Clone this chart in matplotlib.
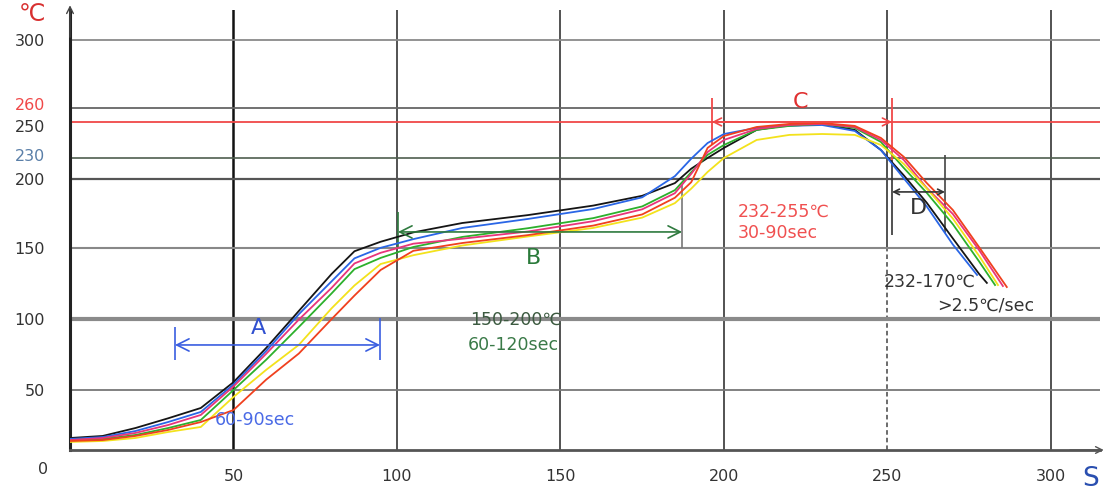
import numpy as np
import matplotlib
matplotlib.use("Agg")
import matplotlib.pyplot as plt
import matplotlib.transforms as mtransforms

plt.rcParams['font.family'] = ['DejaVu Sans']

# ---------------- data (time in s, temperature in degC) ----------------
time_s = [0, 10, 20, 30, 40, 50, 60, 70, 80, 87, 95, 105, 120, 140, 160, 175,
          185, 190, 195, 200, 210, 220, 230, 240, 248, 255, 262, 270]

black_T = [10, 11.7, 18.3, 26.4, 35, 55.5, 79.6, 105.7, 131.7, 147.7, 154.5, 161.3, 168.1, 173.8,
           180.7, 187.8, 197, 214.7, 230, 235.6, 245.6, 248.3, 248.9, 245.6, 234.4, 205.1, 182.8, 156.9]
black_tail_s = [278, 280.4]
black_tail_T = [131.8, 125.4]

blue_T = [9.2, 10.8, 15.8, 23.3, 31.7, 53.9, 77.5, 103.4, 126.5, 142.7, 150.1, 156.4, 164.5, 171,
          178.2, 186.7, 204, 229, 238.3, 243.3, 246.7, 247.8, 248.3, 245, 234.4, 200.9, 180.1, 152.5]
blue_tail_s = [277.4]
blue_tail_T = [131]

pink_T = [8.3, 10, 14.2, 20.8, 29.2, 52.5, 75.5, 99.6, 121.9, 139.1, 146.6, 153.1, 156.7, 161.9,
          169.4, 178, 189.7, 207.4, 233.3, 240, 246.1, 248.3, 248.9, 247.2, 240, 227.1, 193.5, 174.6]
pink_tail_s = [278, 285.3]
pink_tail_T = [148.6, 123.2]

green_T = [8.3, 9.2, 12.5, 18.3, 25, 50, 71.3, 94.4, 118, 135.1, 143, 150.7, 158, 164.3,
           171.6, 180.1, 191.9, 209.7, 231.7, 237.2, 245.6, 247.8, 248.9, 246.7, 238.9, 215.7, 190, 167.2]
green_tail_s = [278, 282.9]
green_tail_T = [140.6, 123.9]

yellow_T = [6.7, 7.5, 10, 15, 19.2, 44.2, 64.2, 81.8, 107.5, 123.6, 138.7, 144.9, 151.8, 158.3,
            164.5, 172, 182.5, 193, 210, 230, 240, 242.8, 243.3, 242.8, 237.2, 221.4, 193.1, 171.3]
yellow_tail_s = [278, 283.8]
yellow_tail_T = [144.5, 123.9]

red_T = [7.5, 8.3, 11.7, 16.7, 23.3, 33.3, 57.3, 75.7, 99.9, 116.5, 134.5, 148, 153.6, 159.3,
         166.2, 174.3, 186.4, 197.7, 235.6, 242.2, 247.2, 248.9, 249.4, 247.8, 241.1, 230.6, 197.1, 177.5]
red_tail_s = [278, 286.5]
red_tail_T = [150.7, 122.5]

x_ticks = [50, 100, 150, 200, 250, 300]
y_ticks = [50, 100, 150, 200, 230, 250, 260, 300]
y_tick_labels = ['50', '100', '150', '200', '230', '250', '260', '300']

# ---------------- non-linear temperature axis of the original ----------------
scale_T = [-50, 0, 50, 100, 150, 200, 230, 250, 260, 300, 360]
scale_pos = [-510, -450, -390, -319, -248, -179, -158, -122, -108, -40, 62]


def fwd(v):
    return np.interp(v, scale_T, scale_pos)


def inv(p):
    return np.interp(p, scale_pos, scale_T)


W, H = 1107, 493
fig = plt.figure(figsize=(W / 100, H / 100), dpi=100)
ax = fig.add_axes([70 / W, 43 / H, 1030 / W, 440 / H])
ax.set_yscale('function', functions=(fwd, inv))
ax.set_xlim(0, 315)
ax.set_ylim(0, 317.6)


def fx(px):
    return px / W


def fy(py):
    return 1 - py / H


# grid lines
for xv in x_ticks:
    if xv == 50:
        ax.axvline(xv, color='#111111', lw=1.8, zorder=1)
    elif xv == 250:
        ax.vlines(xv, 150, 317.6, color='#444444', lw=1.3, zorder=1)
        ax.vlines(xv, 0, 150, color='#444444', lw=1.1, linestyles=(0, (3, 2)), zorder=1)
    else:
        ax.axvline(xv, color='#444444', lw=1.3, zorder=1)

hstyle = {50: ('#777777', 1.3), 100: ('#8a8a8a', 3.0), 150: ('#888888', 1.5),
          200: ('#555555', 1.6), 230: ('#4f5f4f', 1.2), 250: ('#f04848', 1.3),
          260: ('#666666', 1.3), 300: ('#8a8a8a', 1.3)}
for yv in y_ticks:
    c, lw = hstyle[yv]
    ax.axhline(yv, color=c, lw=lw, zorder=1)

# curves
curves = [
    (black_T, black_tail_s, black_tail_T, '#151515'),
    (blue_T, blue_tail_s, blue_tail_T, '#2a66e6'),
    (green_T, green_tail_s, green_tail_T, '#2cb02c'),
    (pink_T, pink_tail_s, pink_tail_T, '#e8357a'),
    (yellow_T, yellow_tail_s, yellow_tail_T, '#f3e21c'),
    (red_T, red_tail_s, red_tail_T, '#f0401e'),
]
for T, ts, tt, col in curves:
    ax.plot(list(time_s) + list(ts), list(T) + list(tt), color=col, lw=1.3, zorder=3)

# spines and ticks
for s in ['top', 'right']:
    ax.spines[s].set_visible(False)
ax.spines['left'].set_color('#222222')
ax.spines['left'].set_linewidth(2.2)
ax.spines['bottom'].set_color('#555555')
ax.spines['bottom'].set_linewidth(2.0)

ax.set_xticks(x_ticks)
ax.set_xticklabels([str(v) for v in x_ticks])
ax.set_yticks(y_ticks)
ax.set_yticklabels(y_tick_labels)
ax.yaxis.set_minor_locator(matplotlib.ticker.NullLocator())
ax.xaxis.set_minor_locator(matplotlib.ticker.NullLocator())
ax.tick_params(axis='x', length=0, pad=14, labelsize=11.5, labelcolor='#333333')
ax.tick_params(axis='y', length=0, pad=18, labelsize=11.5, labelcolor='#333333')
for lab in ax.get_yticklabels():
    t = lab.get_text()
    if t == '260':
        lab.set_color('#f04848')
        lab.set_transform(lab.get_transform() +
                          mtransforms.ScaledTranslation(0, 3 / 72, fig.dpi_scale_trans))
    elif t == '250':
        lab.set_transform(lab.get_transform() +
                          mtransforms.ScaledTranslation(0, -3 / 72, fig.dpi_scale_trans))
    elif t == '230':
        lab.set_color('#5a7fa8')
        lab.set_transform(lab.get_transform() +
                          mtransforms.ScaledTranslation(0, 2 / 72, fig.dpi_scale_trans))

# axis arrows
ax.annotate('', xy=(0, 322), xytext=(0, 300), annotation_clip=False,
            arrowprops=dict(arrowstyle='->', color='#444444', lw=1.0, mutation_scale=12))
ax.annotate('', xy=(317, 0), xytext=(305, 0), annotation_clip=False,
            arrowprops=dict(arrowstyle='->', color='#555555', lw=1.0, mutation_scale=12))

fig.text(fx(48), fy(469), '0', ha='right', va='center', fontsize=11.5, color='#333333')
fig.text(fx(32), fy(14), '℃', ha='center', va='center', fontsize=17, color='#d83030')
fig.text(fx(1091), fy(479), 'S', ha='center', va='center', fontsize=19, color='#2a4fb0')

# ---------------- annotations ----------------
blue_a = '#3a5ee0'
ax.vlines(32.1, 71, 94.4, color=blue_a, lw=1.2, zorder=2)
ax.vlines(94.8, 71, 100.7, color=blue_a, lw=1.2, zorder=2)
ax.annotate('', xy=(32.1, 81.7), xytext=(94.8, 81.7),
            arrowprops=dict(arrowstyle='<->', color=blue_a, lw=1.2, mutation_scale=22,
                            shrinkA=0, shrinkB=0))
fig.text(fx(258), fy(328), 'A', ha='center', va='center', fontsize=16, color='#3050d0')
fig.text(fx(215), fy(420), '60-90sec', ha='left', va='center', fontsize=12.5, color='#4a6ae6')

green_a = '#2e7a3e'
ax.vlines(100.3, 150, 176, color=green_a, lw=1.2, zorder=2)
ax.vlines(187.2, 150, 195.7, color='#777777', lw=1.2, zorder=2)
ax.annotate('', xy=(100.3, 161.6), xytext=(187.2, 161.6),
            arrowprops=dict(arrowstyle='<->', color=green_a, lw=1.2, mutation_scale=22,
                            shrinkA=0, shrinkB=0))
fig.text(fx(533), fy(258), 'B', ha='center', va='center', fontsize=16, color='#2a7a3a')
fig.text(fx(470), fy(320), '150-200℃', ha='left', va='center', fontsize=12.5, color='#3c5a40')
fig.text(fx(468), fy(345), '60-120sec', ha='left', va='center', fontsize=12.5, color='#3a7a48')

red_a = '#f04848'
ax.vlines(196.3, 237.2, 265.9, color=red_a, lw=1.3, zorder=2)
ax.vlines(251.4, 227.1, 265.9, color=red_a, lw=1.3, zorder=2)
ax.vlines(251.4, 159.4, 227.1, color='#333333', lw=1.2, zorder=2)
ax.annotate('', xy=(196.3, 250), xytext=(251.4, 250),
            arrowprops=dict(arrowstyle='<->', color=red_a, lw=1.2, mutation_scale=14,
                            shrinkA=0, shrinkB=0))
fig.text(fx(800), fy(102), 'C', ha='center', va='center', fontsize=16, color='#e03030')
fig.text(fx(738), fy(212), '232-255℃', ha='left', va='center', fontsize=12.5, color='#f05050')
fig.text(fx(738), fy(233), '30-90sec', ha='left', va='center', fontsize=12.5, color='#f05050')

ax.vlines(267.6, 160.9, 231.7, color='#444444', lw=1.2, zorder=2)
ax.annotate('', xy=(251.4, 190.6), xytext=(267.6, 190.6),
            arrowprops=dict(arrowstyle='<->', color='#333333', lw=1.2, mutation_scale=10,
                            shrinkA=0, shrinkB=0))
fig.text(fx(918), fy(208), 'D', ha='center', va='center', fontsize=16, color='#333333')
fig.text(fx(884), fy(282), '232-170℃', ha='left', va='center', fontsize=12.5, color='#333333')
fig.text(fx(937), fy(305), '>2.5℃/sec', ha='left', va='center', fontsize=12.5, color='#333333')

fig.savefig('out.png', dpi=100, facecolor='white')
